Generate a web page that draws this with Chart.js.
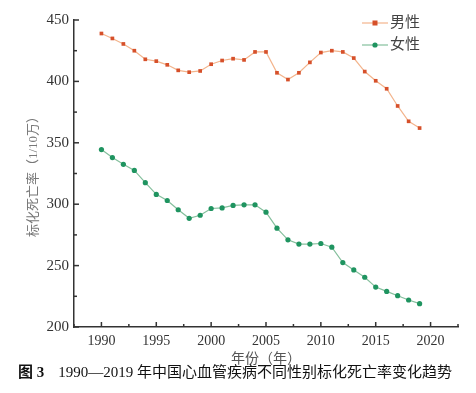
<!DOCTYPE html>
<html>
<head>
<meta charset="utf-8">
<script src="https://cdn.jsdelivr.net/npm/chart.js@4"></script>
<style>
    body { margin: 0; background: #fff; }
    #wrap { position: relative; width: 476px; height: 393px; }
    #caption {
        position: absolute; left: 18px; top: 360px;
        font: 15px "Liberation Serif", "Noto Sans CJK SC", serif;
        color: #111; white-space: nowrap;
    }
    #caption b { margin-right: 14px; }
</style>
</head>
<body>
<div id="wrap">
    <canvas id="chart" width="476" height="393"></canvas>
    <div id="caption"><b>图 3</b>1990—2019 年中国心血管疾病不同性别标化死亡率变化趋势</div>
</div>
<script>
const years = [1990, 1991, 1992, 1993, 1994, 1995, 1996, 1997, 1998, 1999,
    2000, 2001, 2002, 2003, 2004, 2005, 2006, 2007, 2008, 2009,
    2010, 2011, 2012, 2013, 2014, 2015, 2016, 2017, 2018, 2019];
const maleRates = [439, 435, 430.5, 425, 418, 416.5, 413.5, 409, 407.5, 408.5,
    414, 417, 418.5, 417.5, 424, 424, 407, 401.5, 407, 415.5,
    423.5, 425, 424, 419, 408, 400.5, 394, 380, 367.5, 362];
const femaleRates = [344.5, 338, 332.5, 327.5, 317.5, 308, 303, 295.5, 288.5, 291,
    296.5, 297, 299, 299.5, 299.5, 293.5, 280.5, 271, 267.5, 267.5,
    268, 265, 252.5, 246.5, 240.5, 232.5, 229, 225.5, 222, 219];
const xTicks = [1990, 1995, 2000, 2005, 2010, 2015, 2020];
const yTicks = [200, 250, 300, 350, 400, 450];

const serif = '"Liberation Serif", "Noto Sans CJK SC", serif';
const axisColor = '#333';

// 刻度线朝内
const innerTicks = {
    id: 'innerTicks',
    afterDraw(chart) {
        const { ctx, chartArea, scales } = chart;
        ctx.save();
        ctx.strokeStyle = axisColor;
        ctx.lineWidth = 1.5;
        scales.x.ticks.forEach(t => {
            const px = scales.x.getPixelForValue(t.value);
            const len = xTicks.includes(t.value) ? 5 : 3;
            ctx.beginPath();
            ctx.moveTo(px, chartArea.bottom);
            ctx.lineTo(px, chartArea.bottom - len);
            ctx.stroke();
        });
        scales.y.ticks.forEach(t => {
            const py = scales.y.getPixelForValue(t.value);
            const len = yTicks.includes(t.value) ? 5 : 3;
            ctx.beginPath();
            ctx.moveTo(chartArea.left, py);
            ctx.lineTo(chartArea.left + len, py);
            ctx.stroke();
        });
        ctx.restore();
    }
};

// 图例
const lineLegend = {
    id: 'lineLegend',
    afterDraw(chart) {
        const { ctx } = chart;
        ctx.save();
        chart.data.datasets.forEach((ds, i) => {
            const y = 23 + i * 22;
            ctx.strokeStyle = ds.borderColor;
            ctx.lineWidth = 1.2;
            ctx.beginPath();
            ctx.moveTo(362, y);
            ctx.lineTo(388, y);
            ctx.stroke();
            ctx.fillStyle = ds.pointBackgroundColor;
            if (ds.pointStyle === 'rect') {
                ctx.fillRect(372.5, y - 2.5, 5, 5);
            } else {
                ctx.beginPath();
                ctx.arc(375, y, 2.6, 0, Math.PI * 2);
                ctx.fill();
            }
            ctx.fillStyle = '#444';
            ctx.font = '15px ' + serif;
            ctx.textBaseline = 'middle';
            ctx.fillText(ds.label, 390, y);
        });
        ctx.restore();
    }
};

new Chart(document.getElementById('chart'), {
    type: 'line',
    data: {
        datasets: [
            {
                label: '男性',
                data: years.map((yr, i) => ({ x: yr, y: maleRates[i] })),
                borderColor: '#f3b48c',
                borderWidth: 1.2,
                pointStyle: 'rect',
                pointRadius: 2.6,
                pointBackgroundColor: '#d6502a',
                pointBorderWidth: 0,
                tension: 0
            },
            {
                label: '女性',
                data: years.map((yr, i) => ({ x: yr, y: femaleRates[i] })),
                borderColor: '#84bf9c',
                borderWidth: 1.2,
                pointStyle: 'circle',
                pointRadius: 2.6,
                pointBackgroundColor: '#1f9460',
                pointBorderWidth: 0,
                tension: 0
            }
        ]
    },
    options: {
        responsive: false,
        animation: false,
        layout: { padding: { top: 20, right: 18, left: 0, bottom: 0 } },
        plugins: { legend: { display: false }, tooltip: { enabled: false } },
        scales: {
            x: {
                type: 'linear',
                min: 1987.5,
                max: 2022.5,
                afterFit: s => { s.height = 66; },
                ticks: {
                    stepSize: 2.5,
                    autoSkip: false,
                    maxRotation: 0,
                    padding: 6,
                    color: '#333',
                    font: { family: serif, size: 14 },
                    callback: v => xTicks.includes(v) ? String(v) : ''
                },
                grid: { display: false, drawTicks: false, tickLength: 0 },
                border: { display: true, color: axisColor, width: 1.5 },
                title: {
                    display: true,
                    text: '年份（年）',
                    color: '#555',
                    font: { family: serif, size: 14 },
                    padding: { top: 0, bottom: 25 }
                }
            },
            y: {
                min: 200,
                max: 450,
                afterFit: s => { s.width = 74; },
                ticks: {
                    stepSize: 25,
                    autoSkip: false,
                    padding: 5,
                    color: '#333',
                    font: { family: serif, size: 15 },
                    callback: v => yTicks.includes(v) ? String(v) : ''
                },
                grid: { display: false, drawTicks: false, tickLength: 0 },
                border: { display: true, color: axisColor, width: 1.5 },
                title: {
                    display: true,
                    text: '标化死亡率（1/10万）',
                    color: '#777',
                    font: { family: serif, size: 13 },
                    padding: { top: 26, bottom: 0 }
                }
            }
        }
    },
    plugins: [innerTicks, lineLegend]
});
</script>
</body>
</html>
